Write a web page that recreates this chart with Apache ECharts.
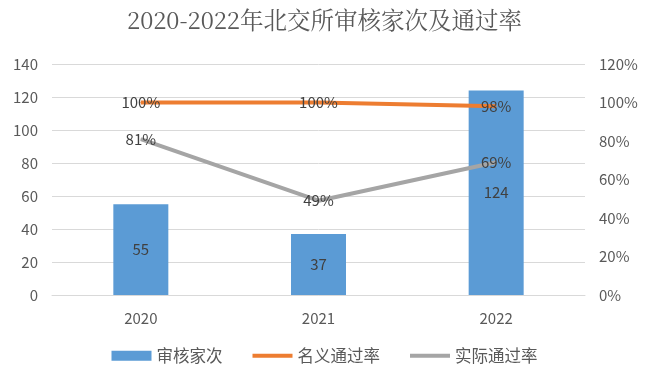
<!DOCTYPE html>
<html><head><meta charset="utf-8">
<script src="https://cdn.jsdelivr.net/npm/echarts@6/dist/echarts.min.js"></script>
<style>html,body{margin:0;padding:0;background:#fff}#c{width:649px;height:375px}</style>
</head><body><div id="c"></div>
<script>
const categories = ['2020', '2021', '2022'];
const reviewCount = [55, 37, 124];
const nominalRate = [1.00, 1.00, 0.98];
const actualRate = [0.81, 0.49, 0.69];
const leftTicks = [0, 20, 40, 60, 80, 100, 120, 140];

const chart = echarts.init(document.getElementById('c'));
const font = '"Noto Sans CJK SC", "Noto Sans", sans-serif';
const pct = v => Math.round(v * 100) + '%';
chart.setOption({
  animation: false,
  textStyle: { fontFamily: font },
  title: {
    text: '2020-2022年北交所审核家次及通过率',
    left: 'center', top: 3,
    textStyle: { fontFamily: '"Noto Serif CJK SC", "DejaVu Serif", "Noto Sans CJK SC", serif', fontWeight: 'normal', fontSize: 23.5, color: '#595959' }
  },
  legend: {
    bottom: 6, left: 'center', itemGap: 28, itemWidth: 40, itemHeight: 10,
    textStyle: { fontSize: 16.5, color: '#595959', fontFamily: font },
    data: [
      { name: '审核家次', icon: 'rect' },
      { name: '名义通过率', itemStyle: { opacity: 0 }, lineStyle: { width: 4, color: '#ED7D31' } },
      { name: '实际通过率', itemStyle: { opacity: 0 }, lineStyle: { width: 4, color: '#A5A5A5' } }
    ]
  },
  grid: { left: 52, right: 64, top: 64, bottom: 80 },
  xAxis: {
    type: 'category', data: categories,
    axisLine: { lineStyle: { color: '#D9D9D9' } },
    axisTick: { show: false },
    axisLabel: { color: '#595959', fontSize: 15, margin: 16 }
  },
  yAxis: [
    { type: 'value', min: leftTicks[0], max: leftTicks[leftTicks.length - 1], interval: 20,
      axisLine: { show: false }, axisTick: { show: false },
      axisLabel: { color: '#595959', fontSize: 15, margin: 14 },
      splitLine: { lineStyle: { color: '#D9D9D9' } } },
    { type: 'value', min: 0, max: 1.2, interval: 0.2,
      axisLine: { show: false }, axisTick: { show: false },
      axisLabel: { color: '#595959', fontSize: 15, margin: 14, formatter: pct },
      splitLine: { show: false } }
  ],
  series: [
    { name: '审核家次', type: 'bar', data: reviewCount, barWidth: 55,
      itemStyle: { color: '#5B9BD5' },
      label: { show: true, position: 'inside', color: '#404040', fontSize: 15 } },
    { name: '名义通过率', type: 'line', yAxisIndex: 1, data: nominalRate,
      showSymbol: true, symbol: 'circle', symbolSize: 1, itemStyle: { color: '#ED7D31' },
      lineStyle: { width: 4, color: '#ED7D31' },
      label: { show: true, position: 'inside', color: '#404040', fontSize: 15, formatter: p => pct(p.value) } },
    { name: '实际通过率', type: 'line', yAxisIndex: 1, data: actualRate,
      showSymbol: true, symbol: 'circle', symbolSize: 1, itemStyle: { color: '#A5A5A5' },
      lineStyle: { width: 4, color: '#A5A5A5' },
      label: { show: true, position: 'inside', color: '#404040', fontSize: 15, formatter: p => pct(p.value) } }
  ]
});
</script></body></html>
